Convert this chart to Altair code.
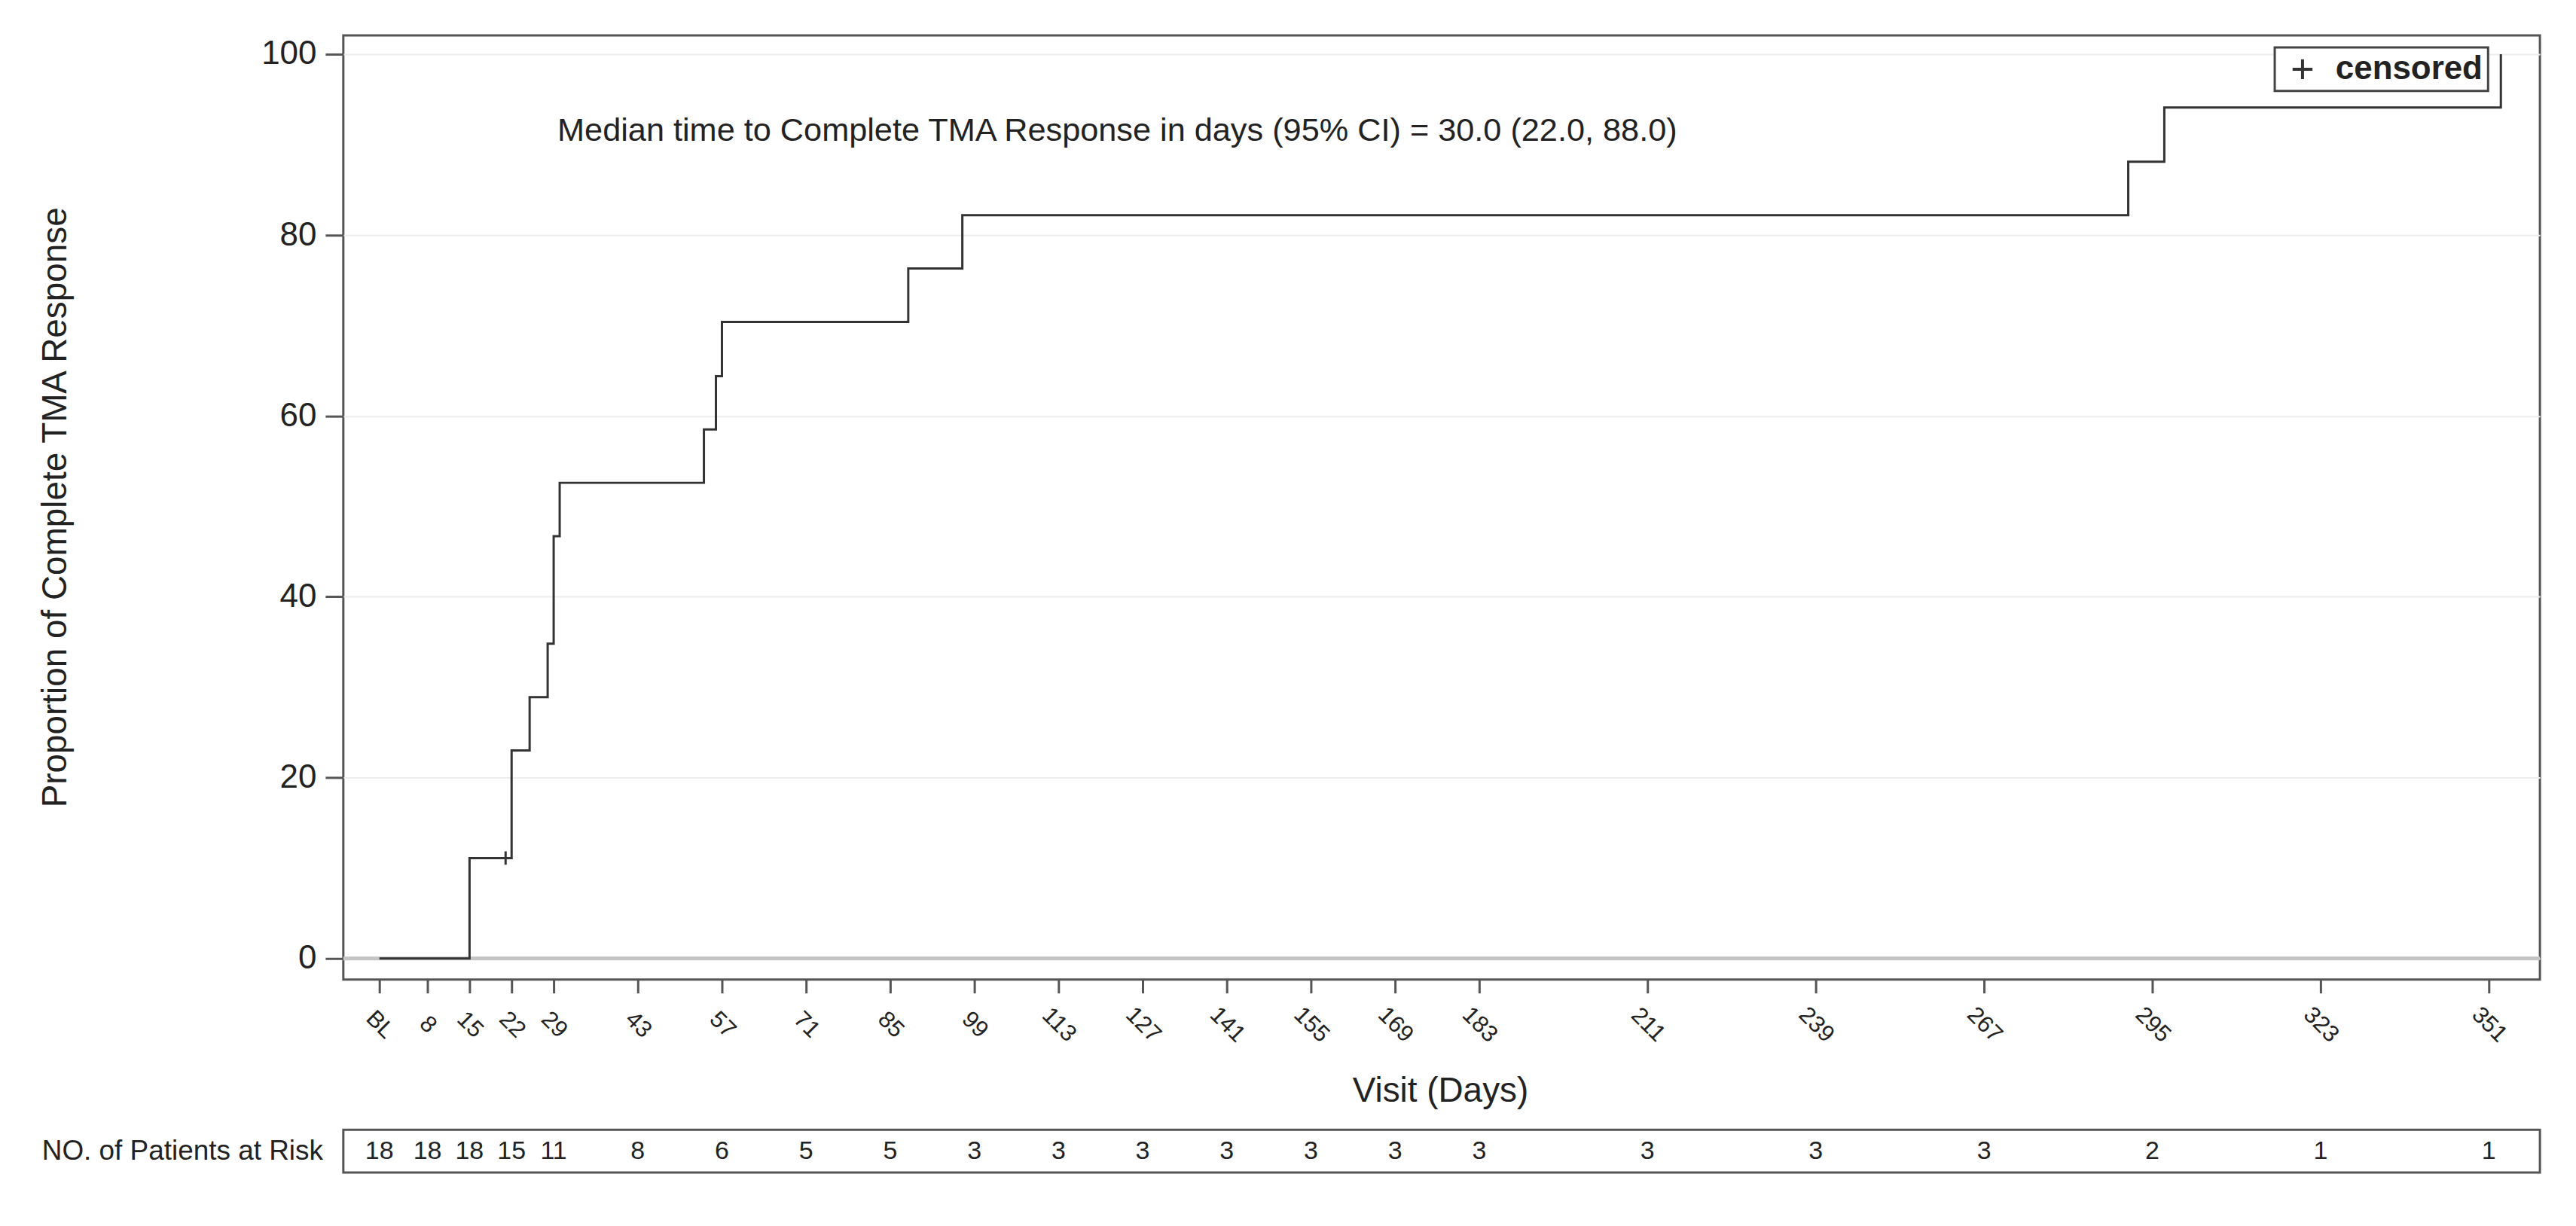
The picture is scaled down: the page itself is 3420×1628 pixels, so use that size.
import altair as alt
import pandas as pd

# ---------------- data ----------------
# visit days used for x ticks (BL = day 0) and number of patients at risk
visit_days = [0, 8, 15, 22, 29, 43, 57, 71, 85, 99, 113, 127, 141, 155, 169,
              183, 211, 239, 267, 295, 323, 351]
at_risk = [18, 18, 18, 15, 11, 8, 6, 5, 5, 3, 3, 3, 3, 3, 3, 3, 3, 3, 3, 2, 1, 1]

# cumulative proportion of complete TMA response (step curve)
event_days = [0, 15, 22, 25, 28, 29, 30, 54, 56, 57, 88, 97, 291, 297, 353]
event_pct = [0, 11.1, 23.0, 28.9, 34.8, 46.7, 52.6, 58.5, 64.4, 70.4, 76.3,
             82.2, 88.1, 94.1, 100.0]

# censored observations
censor_days = [21]
censor_pct = [11.1]

y_ticks = [0, 20, 40, 60, 80, 100]
median_text = "Median time to Complete TMA Response in days (95% CI) = 30.0 (22.0, 88.0)"
risk_label = "NO. of Patients at Risk"

# ---------------- styling ----------------
W, H = 2924, 1257
FONT = "Liberation Sans"
TXT = "#222222"
FRAME = "#555555"
CURVE = "#333333"
PLUS = "M-1,0L1,0M0,-1L0,1"

xscale = alt.Scale(domain=[-6, 359.5], nice=False, zero=False)
yscale = alt.Scale(domain=[-2.33, 102.08], nice=False, zero=False)

x_axis = alt.Axis(
    values=visit_days,
    labelExpr="datum.value == 0 ? 'BL' : datum.label",
    labelAngle=45, labelAlign="center", labelBaseline="middle",
    labelPadding=42, labelFontSize=31, labelColor=TXT, labelFont=FONT,
    labelOverlap=False, labelFlush=False,
    tickSize=18, tickWidth=3, tickColor=FRAME,
    domain=False, grid=False,
    title="Visit (Days)", titleFontSize=46, titleFont=FONT,
    titleFontWeight="normal", titleColor=TXT,
    titleX=1460, titleY=162, titleAlign="center", titleBaseline="alphabetic",
)
y_axis = alt.Axis(
    values=y_ticks,
    labelFontSize=44, labelPadding=12, labelColor=TXT, labelFont=FONT,
    tickSize=24, tickWidth=3, tickColor=FRAME,
    domain=False, grid=True, gridColor="#eeeeee", gridWidth=2,
    title="Proportion of Complete TMA Response", titleFontSize=46,
    titleFont=FONT, titleFontWeight="normal", titleColor=TXT,
    titleAngle=270, titleX=-369, titleY=628,
    titleAlign="center", titleBaseline="alphabetic",
)

curve_df = pd.DataFrame({"day": event_days, "pct": event_pct})
cens_df = pd.DataFrame({"day": censor_days, "pct": censor_pct,
                        "status": ["censored"] * len(censor_days)})
risk_df = pd.DataFrame({"day": visit_days, "n": at_risk})

zero = alt.Chart(pd.DataFrame({"pct": [0]})).mark_rule(
    color="#c4c4c4", strokeWidth=5
).encode(y=alt.Y("pct:Q", scale=yscale))

line = alt.Chart(curve_df).mark_line(
    interpolate="step-after", color=CURVE, strokeWidth=3
).encode(
    x=alt.X("day:Q", scale=xscale, axis=x_axis),
    y=alt.Y("pct:Q", scale=yscale, axis=y_axis),
)

cens = alt.Chart(cens_df).mark_point(
    filled=False, color=CURVE, strokeWidth=3, size=320, opacity=1
).encode(
    x=alt.X("day:Q", scale=xscale),
    y=alt.Y("pct:Q", scale=yscale),
    shape=alt.Shape(
        "status:N",
        scale=alt.Scale(domain=["censored"], range=[PLUS]),
        legend=alt.Legend(
            title=None, orient="none", legendX=2571, legendY=16,
            labelFontSize=44, labelFontWeight="bold", labelFont=FONT,
            labelColor=TXT, labelLimit=600, symbolSize=700,
            symbolStrokeWidth=4, symbolStrokeColor=CURVE, symbolOffset=8,
            labelOffset=22, padding=7, strokeColor="#444444",
            fillColor="white",
        ),
    ),
)

med = alt.Chart(pd.DataFrame({"t": [median_text]})).mark_text(
    align="left", baseline="alphabetic", fontSize=43.4, font=FONT, color=TXT
).encode(x=alt.value(285), y=alt.value(140), text="t:N")

box = alt.Chart(pd.DataFrame({"a": [0]})).mark_rect(
    fill="white", stroke=FRAME, strokeWidth=3
).encode(x=alt.value(0), x2=alt.value(W), y=alt.value(1457), y2=alt.value(1514))

risk_txt = alt.Chart(risk_df).mark_text(
    fontSize=34, font=FONT, color=TXT, baseline="middle"
).encode(x=alt.X("day:Q", scale=xscale), y=alt.value(1486), text="n:Q")

risk_lab = alt.Chart(pd.DataFrame({"t": [risk_label]})).mark_text(
    align="right", baseline="middle", fontSize=37, font=FONT, color=TXT
).encode(x=alt.value(-27), y=alt.value(1486), text="t:N")

chart = alt.layer(zero, line, cens, med, box, risk_txt, risk_lab).properties(
    width=W, height=H,
    padding={"left": 449, "top": 37, "right": 40, "bottom": 300},
    autosize=alt.AutoSizeParams(type="none"),
).configure_view(
    stroke=FRAME, strokeWidth=3
).configure_legend(
    strokeWidth=3
)

chart.save("out.html", embed_options={"renderer": "svg", "actions": False})
